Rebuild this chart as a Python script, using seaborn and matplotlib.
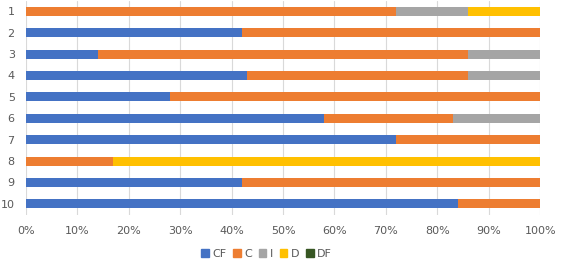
import numpy as np
import pandas as pd
import seaborn as sns
import matplotlib.pyplot as plt
from matplotlib.patches import Patch
from matplotlib.ticker import PercentFormatter

rows = ['1', '2', '3', '4', '5', '6', '7', '8', '9', '10']
series = ['CF', 'C', 'I', 'D', 'DF']
cf = [0, 42, 14, 43, 28, 58, 72, 0, 42, 84]
c = [72, 58, 72, 43, 72, 25, 28, 17, 58, 16]
i = [14, 0, 14, 14, 0, 17, 0, 0, 0, 0]
d = [14, 0, 0, 0, 0, 0, 0, 83, 0, 0]
dfv = [0, 0, 0, 0, 0, 0, 0, 0, 0, 0]
colors = ['#4472C4', '#ED7D31', '#A5A5A5', '#FFC000', '#375623']

df = pd.DataFrame({'row': rows, 'CF': cf, 'C': c, 'I': i, 'D': d, 'DF': dfv})
totals = df[series].sum(axis=1)
pct = df[series].div(totals, axis=0) * 100
cum = pct.cumsum(axis=1)

sns.set_style('white')
fig = plt.figure(figsize=(5.61, 2.61), dpi=100)
ax = fig.add_axes([0.046, 0.178, 0.917, 0.82])

# draw cumulative totals from the last series back to the first so each covers the next
for name, col in reversed(list(zip(series, colors))):
    sns.barplot(x=cum[name], y=df['row'], orient='h', color=col, width=0.42,
                saturation=1, ax=ax, linewidth=0)

ax.set_xlim(0, 100)
ax.set_xticks(np.arange(0, 101, 10))
ax.xaxis.set_major_formatter(PercentFormatter(decimals=0))
ax.grid(axis='x', color='#D9D9D9', linewidth=0.8)
ax.set_axisbelow(True)
for s in ax.spines.values():
    s.set_visible(False)
ax.tick_params(axis='both', length=0, labelsize=8, labelcolor='#595959')
ax.tick_params(axis='x', pad=8)
ax.tick_params(axis='y', pad=8)
ax.set_xlabel('')
ax.set_ylabel('')

handles = [Patch(color=col, label=n) for n, col in zip(series, colors)]
fig.legend(handles=handles, loc='lower center', bbox_to_anchor=(0.475, -0.03), ncol=5,
           frameon=False, fontsize=8, handlelength=0.7, handleheight=0.7,
           handletextpad=0.3, columnspacing=0.6, labelcolor='#595959')

fig.savefig('out.png', dpi=100)
